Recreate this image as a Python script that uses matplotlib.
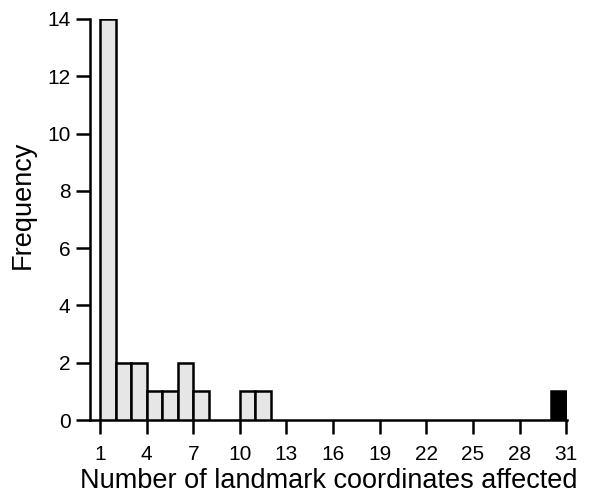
import numpy as np
import matplotlib
matplotlib.use("Agg")
import matplotlib.pyplot as plt

plt.rcParams['font.family'] = ['Liberation Sans', 'DejaVu Sans']

# bin left edges and counts
bins = list(range(1, 31))
counts = [14, 2, 2, 1, 1, 2, 1, 0, 0, 1, 1] + [0] * 18 + [1]
colors = ['#e6e6e6'] * 29 + ['black']
xticks = list(range(1, 32, 3))
yticks = list(range(0, 15, 2))

fig = plt.figure(figsize=(5.97, 5.0), dpi=100)
ax = fig.add_axes([90 / 597, 80 / 500, 477 / 597, 401 / 500])

nz = [i for i, c in enumerate(counts) if c > 0]
ax.bar([bins[i] for i in nz], [counts[i] for i in nz], width=1, align='edge',
       color=[colors[i] for i in nz], edgecolor='black', linewidth=1.8, zorder=3)

ax.set_xlim(0.356, 31.05)
ax.set_ylim(0, 14)
ax.set_xticks(xticks)
ax.set_yticks(yticks)
for s in ['top', 'right']:
    ax.spines[s].set_visible(False)
for s in ['left', 'bottom']:
    ax.spines[s].set_linewidth(1.8)
ax.tick_params(axis='both', direction='out', length=10, width=1.8, labelsize=15)
ax.tick_params(axis='x', pad=8)
ax.tick_params(axis='y', pad=4)
ax.set_xlabel('Number of landmark coordinates affected', fontsize=19.5, labelpad=3)
ax.set_ylabel('Frequency', fontsize=19.5)
ax.yaxis.set_label_coords(-0.113, 0.536)

fig.savefig('out.png', dpi=100)
